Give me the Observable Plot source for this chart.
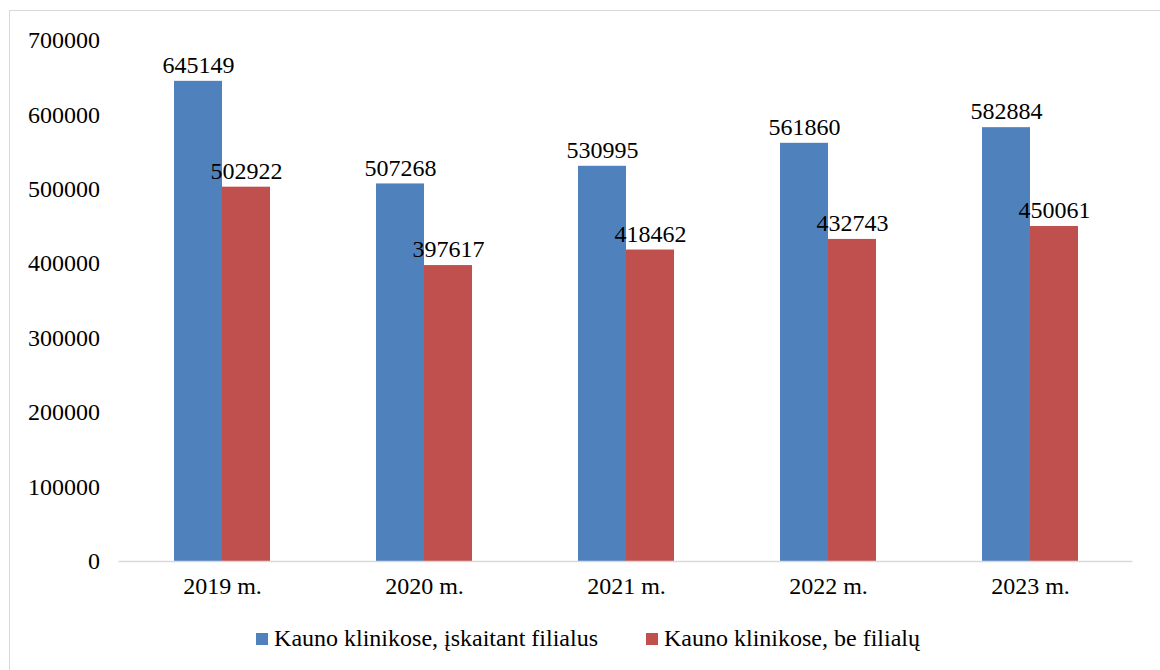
<!DOCTYPE html>
<html>
<head>
<meta charset="utf-8">
<script src="https://cdn.jsdelivr.net/npm/d3@7"></script>
<script src="https://cdn.jsdelivr.net/npm/@observablehq/plot@0.6"></script>
<style>
  html, body { margin: 0; padding: 0; background: #fff; font-family: "Liberation Serif", serif; }
  #wrap { position: relative; width: 1160px; height: 670px; overflow: hidden; font-family: "Liberation Serif", serif; }
  #frame { position: absolute; left: 9px; top: 10px; width: 1160px; height: 700px; border: 1.5px solid #d9d9d9; box-sizing: border-box; }
  #chart { position: absolute; left: 0; top: 0; }
  #legend { position: absolute; left: 0; width: 1176px; top: 625px; display: flex; justify-content: center; gap: 48px; color: #000; font-size: 24px; }
  .item { display: flex; align-items: center; }
  .sw { width: 12px; height: 12px; margin-right: 6px; }
</style>
</head>
<body>
<div id="wrap">
  <div id="frame"></div>
  <div id="chart"></div>
  <div id="legend"></div>
</div>
<script>
const years = ["2019 m.", "2020 m.", "2021 m.", "2022 m.", "2023 m."];
const seriesNames = ["Kauno klinikose, įskaitant filialus", "Kauno klinikose, be filialų"];
const withBranches = [645149, 507268, 530995, 561860, 582884];
const withoutBranches = [502922, 397617, 418462, 432743, 450061];
const yTicks = [0, 100000, 200000, 300000, 400000, 500000, 600000, 700000];
const colors = ["#4F81BD", "#C0504D"];

const SERIF = "'Liberation Serif', serif";

const dataA = years.map((y, i) => ({year: y, value: withBranches[i]}));
const dataB = years.map((y, i) => ({year: y, value: withoutBranches[i]}));
const halfBar = 24;

const chart = Plot.plot({
  width: 1160,
  height: 600,
  marginLeft: 118.5,
  marginRight: 27.5,
  marginTop: 40,
  marginBottom: 39,
  style: {fontFamily: SERIF, fontSize: "24px", color: "#000", background: "transparent"},
  x: {domain: years, paddingInner: 0.764, paddingOuter: 0.382, label: null, tickSize: 0, tickPadding: 15},
  y: {domain: [0, 700000], ticks: yTicks, tickFormat: d3.format("d"), tickSize: 0, tickPadding: 19, label: null},
  marks: [
    Plot.barY(dataA, {x: "year", y: "value", fill: colors[0], dx: -halfBar}),
    Plot.barY(dataB, {x: "year", y: "value", fill: colors[1], dx: halfBar}),
    Plot.ruleY([0], {stroke: "#d9d9d9", strokeWidth: 1.5}),
    Plot.text(dataA, {x: "year", y: "value", text: d => String(d.value), dx: -halfBar, dy: -16, fill: "#000", fontSize: 24}),
    Plot.text(dataB, {x: "year", y: "value", text: d => String(d.value), dx: halfBar, dy: -16, fill: "#000", fontSize: 24})
  ]
});
document.getElementById("chart").appendChild(chart);

const legend = document.getElementById("legend");
seriesNames.forEach((name, i) => {
  const item = document.createElement("div");
  item.className = "item";
  const sw = document.createElement("span");
  sw.className = "sw";
  sw.style.background = colors[i];
  const t = document.createElement("span");
  t.textContent = name;
  item.appendChild(sw);
  item.appendChild(t);
  legend.appendChild(item);
});
</script>
</body>
</html>
